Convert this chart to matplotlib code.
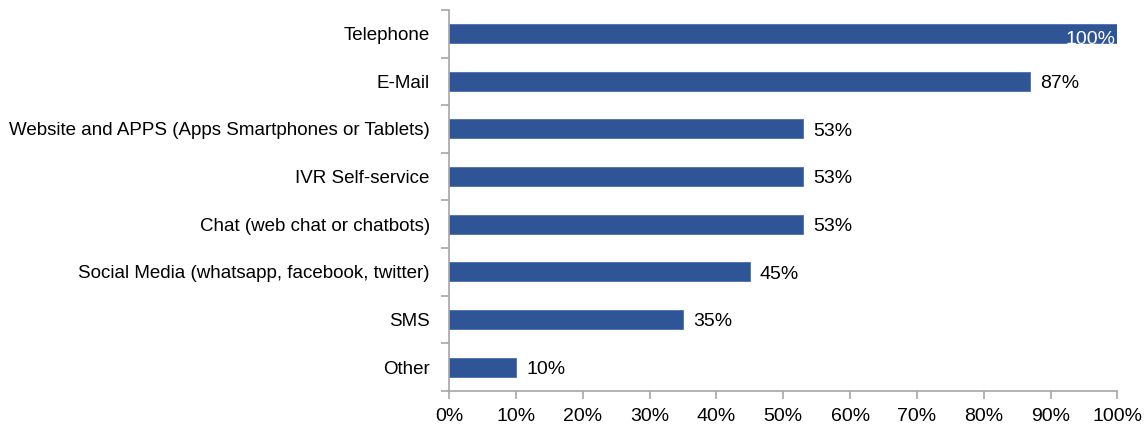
import numpy as np
import matplotlib.pyplot as plt
from matplotlib import font_manager

channels = ["Telephone", "E-Mail", "Website and APPS (Apps Smartphones or Tablets)",
            "IVR Self-service", "Chat (web chat or chatbots)",
            "Social Media (whatsapp, facebook, twitter)", "SMS", "Other"]
shares = [100, 87, 53, 53, 53, 45, 35, 10]
x_ticks = [0, 10, 20, 30, 40, 50, 60, 70, 80, 90, 100]

names = {f.name for f in font_manager.fontManager.ttflist}
if "Liberation Sans Narrow" in names:
    plt.rcParams["font.family"] = ["Liberation Sans Narrow", "DejaVu Sans"]
else:
    plt.rcParams["font.family"] = ["Liberation Sans", "DejaVu Sans"]

bar_color = "#2F5597"
spine_color = "#A6A6A6"

fig = plt.figure(figsize=(11.46, 4.30), dpi=100)
ax = fig.add_axes([0.392, 0.091, 0.583, 0.886])

pos = np.arange(len(channels))
ax.barh(pos, shares, height=0.4, color=bar_color, edgecolor="#4A6FB0", linewidth=0.6)
ax.set_ylim(len(channels) - 0.5, -0.5)
ax.set_xlim(0, 100)

for p, v in zip(pos, shares):
    if v >= 100:
        # full-length bar: label sits inside, low against the bar's bottom edge
        ax.text(v - 0.3, p + 0.12, f"{v}%", ha="right", va="center",
                color="white", fontsize=14, clip_on=True)
    else:
        ax.text(v + 1.5, p + 0.05, f"{v}%", ha="left", va="center",
                color="black", fontsize=14)

ax.set_yticks(pos)
ax.set_yticklabels(channels, fontsize=13.5)
ax.set_yticks(np.arange(len(channels) + 1) - 0.5, minor=True)
ax.tick_params(axis="y", which="major", length=0, pad=14)
ax.tick_params(axis="y", which="minor", length=6, color=spine_color, width=1.2)

ax.set_xticks(x_ticks)
ax.set_xticklabels([f"{t}%" for t in x_ticks], fontsize=14)
ax.tick_params(axis="x", length=6, color=spine_color, width=1.2, pad=6)

for side in ["top", "right"]:
    ax.spines[side].set_visible(False)
for side in ["left", "bottom"]:
    ax.spines[side].set_color(spine_color)
    ax.spines[side].set_linewidth(1.2)

fig.savefig("out.png", dpi=100)
